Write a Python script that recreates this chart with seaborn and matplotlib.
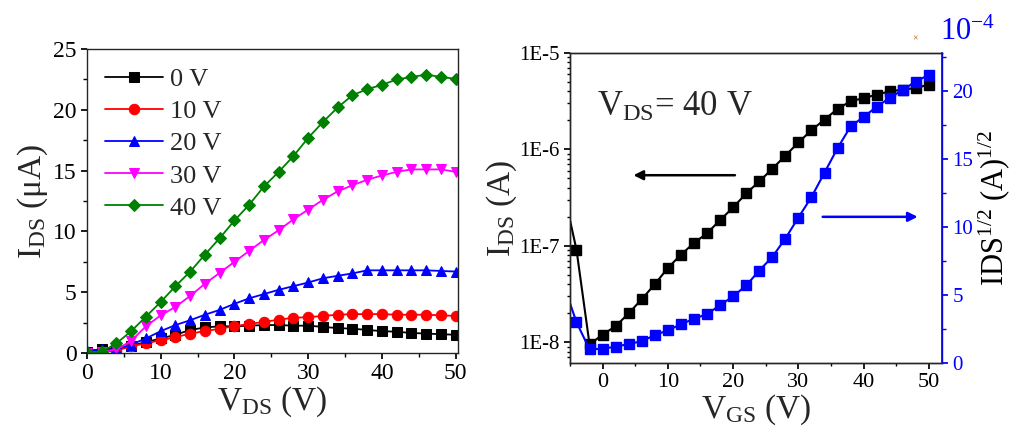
import matplotlib
matplotlib.use('Agg')
import matplotlib.pyplot as plt
import matplotlib.ticker as mticker
import seaborn as sns
import numpy as np

# output curves, I_DS (uA) vs V_DS for each gate voltage
vds = [0, 2, 4, 6, 8, 10, 12, 14, 16, 18, 20, 22, 24, 26, 28, 30,
       32, 34, 36, 38, 40, 42, 44, 46, 48, 50]
ids_0v = [0.1, 0.3, 0.4, 0.6, 0.9, 1.2, 1.5, 1.9, 2.1, 2.2, 2.2, 2.25, 2.3,
          2.3, 2.25, 2.25, 2.15, 2.05, 2.0, 1.9, 1.8, 1.75, 1.65, 1.6, 1.55, 1.5]
ids_10v = [0.0, 0.1, 0.2, 0.55, 0.8, 1.05, 1.3, 1.6, 1.8, 2.0, 2.2, 2.4, 2.55,
           2.75, 2.9, 2.95, 3.05, 3.15, 3.2, 3.2, 3.2, 3.15, 3.15, 3.15, 3.1, 3.05]
ids_20v = [0.2, 0.3, 0.3, 0.7, 1.2, 1.8, 2.3, 2.7, 3.15, 3.55, 4.05, 4.5, 4.85,
           5.2, 5.5, 5.8, 6.15, 6.35, 6.55, 6.8, 6.8, 6.8, 6.8, 6.8, 6.75, 6.7]
ids_30v = [0.0, 0.1, 0.3, 1.0, 2.2, 3.1, 3.8, 4.7, 5.7, 6.6, 7.5, 8.4, 9.3,
           10.1, 11.0, 11.8, 12.6, 13.3, 13.8, 14.25, 14.6, 14.9, 15.1, 15.1, 15.1, 14.9]
ids_40v = [0.05, 0.1, 0.8, 1.8, 3.0, 4.2, 5.5, 6.7, 8.1, 9.45, 10.9, 12.2, 13.7,
           14.9, 16.2, 17.7, 19.0, 20.2, 21.2, 21.7, 22.05, 22.5, 22.7, 22.9, 22.7, 22.55]
vgs_labels = ['0 V', '10 V', '20 V', '30 V', '40 V']

# transfer curve at V_DS = 40 V
vgs = [-5, -4, -2, 0, 2, 4, 6, 8, 10, 12, 14, 16, 18, 20, 22, 24, 26, 28, 30,
       32, 34, 36, 38, 40, 42, 44, 46, 48, 50]
ids_log = [1.85e-7, 9.1e-8, 9.5e-9, 1.2e-8, 1.47e-8, 2.0e-8, 2.8e-8, 4.0e-8,
           5.9e-8, 8.1e-8, 1.07e-7, 1.35e-7, 1.85e-7, 2.5e-7, 3.5e-7, 4.65e-7,
           6.3e-7, 8.6e-7, 1.18e-6, 1.58e-6, 2.04e-6, 2.63e-6, 3.16e-6, 3.4e-6,
           3.7e-6, 4.0e-6, 4.17e-6, 4.33e-6, 4.7e-6]
ids_sqrt = [4.4, 3.0, 1.0, 1.05, 1.2, 1.4, 1.6, 2.05, 2.4, 2.85, 3.25, 3.6,
            4.25, 4.9, 5.7, 6.8, 7.8, 9.15, 10.7, 12.2, 14.0, 15.8, 17.4, 18.1,
            18.85, 19.5, 20.1, 20.7, 21.2]

sns.set_theme(style='ticks')
plt.rcParams['font.family'] = ['Liberation Serif', 'DejaVu Serif']
plt.rcParams['mathtext.fontset'] = 'custom'
plt.rcParams['mathtext.rm'] = 'Liberation Serif'
plt.rcParams['mathtext.it'] = 'Liberation Serif:italic'
plt.rcParams['axes.linewidth'] = 1.0

fig = plt.figure(figsize=(10.22, 4.30), dpi=100)

# ---- left: output characteristics
ax1 = fig.add_axes([0.0851, 0.179, 0.363, 0.707])
series = [ids_0v, ids_10v, ids_20v, ids_30v, ids_40v]
colors = ['black', 'red', 'blue', 'magenta', 'green']
markers = ['s', 'o', '^', 'v', 'D']
for ys, c, m, lab in zip(series, colors, markers, vgs_labels):
    sns.lineplot(x=vds, y=ys, ax=ax1, color=c, marker=m, markersize=7.5 if m != 'D' else 6.5,
                 markeredgecolor=c, linewidth=1.3, label=lab)
ax1.set_xlim(0, 50.3)
ax1.set_ylim(0, 25)
ax1.xaxis.set_major_locator(mticker.MultipleLocator(10))
ax1.xaxis.set_minor_locator(mticker.MultipleLocator(5))
ax1.yaxis.set_major_locator(mticker.MultipleLocator(5))
ax1.yaxis.set_minor_locator(mticker.MultipleLocator(2.5))
ax1.tick_params(which='both', direction='out', labelsize=17, colors='black')
ax1.tick_params(which='major', length=4)
ax1.tick_params(which='minor', length=3)
ax1.set_xlabel(r'V$_{\mathrm{DS}}$ (V)', fontsize=24, labelpad=0)
ax1.set_ylabel(r'I$_{\mathrm{DS}}$ ($\mathrm{\mu}$A)', fontsize=24, labelpad=2)
ax1.legend(loc='upper left', frameon=False, fontsize=19, handlelength=2.2,
           labelspacing=0.33, handletextpad=0.25, borderaxespad=0.3,
           bbox_to_anchor=(0.0, 1.0))

# ---- right: transfer characteristics
ax2 = fig.add_axes([0.5577, 0.1558, 0.364, 0.721])
ax2.plot(vgs, ids_log, color='black', marker='s', markersize=7.5, linewidth=1.5,
         markevery=slice(1, None))
ax2.set_yscale('log')
ax2.set_ylim(6.1e-9, 1e-5)
ax2.set_xlim(-5, 52)
ax2.xaxis.set_major_locator(mticker.MultipleLocator(10))
ax2.xaxis.set_minor_locator(mticker.MultipleLocator(5))
ax2.yaxis.set_major_locator(mticker.LogLocator(base=10, numticks=10))
ax2.yaxis.set_minor_locator(mticker.LogLocator(base=10, subs=np.arange(2, 10), numticks=10))
ax2.yaxis.set_major_formatter(mticker.FuncFormatter(lambda v, p: '1E-%d' % round(-np.log10(v))))
ax2.yaxis.set_minor_formatter(mticker.NullFormatter())
ax2.tick_params(which='both', direction='out', labelsize=16, colors='black')
ax2.tick_params(which='major', length=4)
ax2.tick_params(which='minor', length=2.5)
ax2.set_xlabel(r'V$_{\mathrm{GS}}$ (V)', fontsize=24, labelpad=0)
ax2.set_ylabel(r'I$_{\mathrm{DS}}$ (A)', fontsize=24, labelpad=0)
for lab in ax2.get_yticklabels():
    lab.set_fontsize(15)

ax3 = ax2.twinx()
ax3.plot(vgs, ids_sqrt, color='blue', marker='s', markersize=7.5, linewidth=1.5,
         markevery=slice(1, None))
ax3.set_ylim(0, 22.8)
ax3.yaxis.set_major_locator(mticker.MultipleLocator(5))
ax3.yaxis.set_minor_locator(mticker.MultipleLocator(2.5))
ax3.tick_params(which='both', direction='out', labelsize=15, colors='blue')
ax3.tick_params(which='major', length=4)
ax3.tick_params(which='minor', length=3)
ax3.spines['right'].set_color('blue')
ax3.spines['right'].set_linewidth(1.2)
ax3.set_ylabel(r'IDS$^{\mathrm{1/2}}$ (A)$^{\mathrm{1/2}}$', fontsize=22, color='black',
               labelpad=2)

ax2.text(-0.8, 2.7e-6, r'V$_{\mathrm{DS}}$= 40 V', fontsize=25, va='center', ha='left')
ax2.annotate('', xy=(4.3, 5.4e-7), xytext=(20.7, 5.4e-7),
             arrowprops=dict(arrowstyle='-|>', color='black', lw=1.8,
                             mutation_scale=14))
ax3.annotate('', xy=(48.7, 10.75), xytext=(33.3, 10.75),
             arrowprops=dict(arrowstyle='-|>', color='blue', lw=1.8,
                             mutation_scale=14))

fig.text(0.896, 0.911, r'$\times$', fontsize=7, color='#aa5500', ha='center', va='center')
fig.text(0.920, 0.925, r'10$^{\mathrm{-4}}$', fontsize=22, color='blue', ha='left', va='center')

fig.savefig('out.png', dpi=100)
